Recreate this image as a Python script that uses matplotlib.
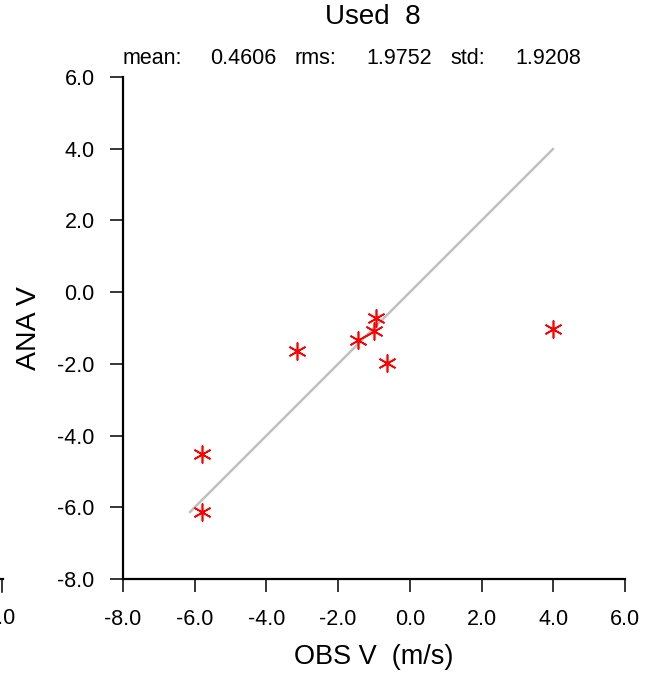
import numpy as np
import matplotlib
matplotlib.use('Agg')
import matplotlib.pyplot as plt
from matplotlib.ticker import FormatStrFormatter

plt.rcParams['font.family'] = ['Liberation Sans', 'DejaVu Sans']
plt.rcParams['axes.unicode_minus'] = False

# obs / ana values
obs = [-5.80, -5.80, -3.15, -1.45, -1.00, -0.94, -0.64, 3.99]
ana = [-4.51, -6.13, -1.64, -1.34, -1.08, -0.72, -1.98, -1.03]
ticks = [-8, -6, -4, -2, 0, 2, 4, 6]

title = 'Used  8'
stat_names = ['mean:', 'rms:', 'std:']
stat_vals = ['0.4606', '1.9752', '1.9208']

W, H = 654, 677
fig = plt.figure(figsize=(W / 100, H / 100), dpi=100)
ax = fig.add_axes([123 / W, 1 - 579 / H, 502 / W, 502 / H])

lo = min(min(obs), min(ana))
hi = max(max(obs), max(ana))
ax.plot([lo, hi], [lo, hi], color='#c0c0c0', lw=1.8, zorder=1)
ax.scatter(obs, ana, marker=(6, 2, 0), s=150, color='red', lw=1.2, zorder=2)

ax.set_xlim(-8, 6)
ax.set_ylim(-8, 6)
ax.set_xticks(ticks)
ax.set_yticks(ticks)
ax.xaxis.set_major_formatter(FormatStrFormatter('%.1f'))
ax.yaxis.set_major_formatter(FormatStrFormatter('%.1f'))
ax.tick_params(direction='out', length=9.5, width=1.1, labelsize=15.5)
ax.tick_params(axis='x', pad=12)
ax.tick_params(axis='y', pad=11)
for s in ['top', 'right']:
    ax.spines[s].set_visible(False)
for s in ['left', 'bottom']:
    ax.spines[s].set_linewidth(1.6)

ax.set_xlabel('OBS V  (m/s)', fontsize=19.5, labelpad=10)
ax.set_ylabel('ANA V', fontsize=20.5, labelpad=11)
fig.text(373 / W, 1 - 17 / H, title, fontsize=20, ha='center', va='center')

# stats line above the axes
name_x = [123, 295, 450]
val_x = [210, 366, 515]
for n, v, nx, vx in zip(stat_names, stat_vals, name_x, val_x):
    fig.text(nx / W, 1 - 58 / H, n, fontsize=15.5, ha='left', va='center')
    fig.text(vx / W, 1 - 58 / H, v, fontsize=15.5, ha='left', va='center')

# leftover label of a neighbouring panel at the left edge
fig.text(15 / W, 1 - 618 / H, '-8.0', fontsize=15.5, ha='right', va='center')
fig.add_artist(plt.Line2D([2 / W, 2 / W], [1 - 579 / H, 1 - 592 / H], color='black', lw=1.1))
fig.add_artist(plt.Line2D([0, 3 / W], [1 - 579 / H, 1 - 579 / H], color='black', lw=1.6))

fig.savefig('out.png', dpi=100)
